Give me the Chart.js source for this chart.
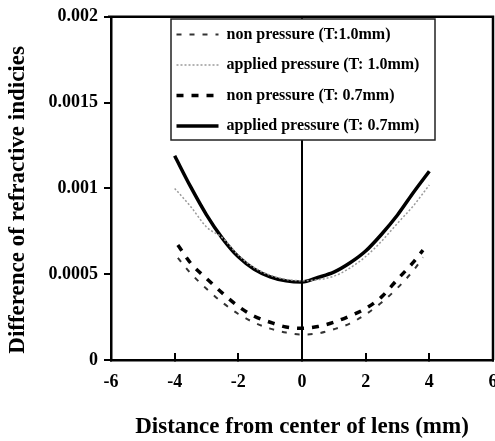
<!DOCTYPE html>
<html>
<head>
<meta charset="utf-8">
<script src="https://cdn.jsdelivr.net/npm/chart.js@4"></script>
<style>
  html, body { margin: 0; padding: 0; background: #fff; }
  #wrap { width: 495px; height: 441px; }
</style>
</head>
<body>
<div id="wrap"><canvas id="chart" width="495" height="441"></canvas></div>
<script>
// x positions (mm)
const xFull = [-4, -3.5, -3, -2.5, -2, -1.5, -1, -0.5, 0, 0.5, 1, 1.5, 2, 2.5, 3, 3.5, 4];
const xShort = [-3.9, -3.5, -3, -2.5, -2, -1.5, -1, -0.5, 0, 0.5, 1, 1.5, 2, 2.5, 3, 3.5, 3.8];

// difference of refractive indicies
const nonPressure10 = [0.000595, 0.000506, 0.000415, 0.000335, 0.000268, 0.000218, 0.000183, 0.00016, 0.000148,
  0.000155, 0.000179, 0.000212, 0.000266, 0.000335, 0.00042, 0.000522, 0.000598];
const applied10 = [0.001, 0.000895, 0.000775, 0.000712, 0.000611, 0.000538, 0.000494, 0.00047, 0.000462,
  0.000468, 0.000488, 0.000535, 0.000603, 0.000692, 0.000797, 0.000899, 0.00102];
const nonPressure07 = [0.00067, 0.000565, 0.000475, 0.00039, 0.000313, 0.000255, 0.00022, 0.000192, 0.000185,
  0.000195, 0.00022, 0.000256, 0.0003, 0.000368, 0.00047, 0.00057, 0.00064];
const applied07 = [0.00119, 0.00101, 0.000846, 0.000709, 0.000601, 0.000529, 0.000485, 0.000461, 0.000454,
  0.000481, 0.000512, 0.000565, 0.000635, 0.000733, 0.000845, 0.000976, 0.0011];

const seriesNames = ['non pressure (T:1.0mm)', 'applied pressure (T: 1.0mm)', 'non pressure (T: 0.7mm)', 'applied pressure (T: 0.7mm)'];
const xTicks = [-6, -4, -2, 0, 2, 4, 6];
const yTickLabels = ['0', '0.0005', '0.001', '0.0015', '0.002'];

const serif = 'Liberation Serif, Times New Roman, serif';

function pts(xs, ys) {
  return xs.map((x, i) => ({ x: x, y: ys[i] }));
}

// legend box + frame + centre line
const framePlugin = {
  id: 'frame',
  afterLayout(chart) {
    const lg = chart.legend;
    lg.left = 162; lg.top = 12; lg.right = 440; lg.bottom = 340;
    lg.width = lg.right - lg.left; lg.height = lg.bottom - lg.top;
  },
  beforeDraw(chart) {
    const ctx = chart.ctx;
    const a = chart.chartArea;
    const x0 = chart.scales.x.getPixelForValue(0);
    ctx.save();
    ctx.strokeStyle = '#000';
    ctx.lineWidth = 2;
    ctx.beginPath();
    ctx.moveTo(x0, a.top);
    ctx.lineTo(x0, a.bottom);
    ctx.stroke();
    // top + right border
    ctx.lineWidth = 2.5;
    ctx.beginPath();
    ctx.moveTo(a.left - 3, a.top);
    ctx.lineTo(a.right, a.top);
    ctx.lineTo(a.right, a.bottom);
    ctx.stroke();
    // legend frame
    ctx.fillStyle = '#fff';
    ctx.fillRect(171, 19, 264, 121);
    ctx.lineWidth = 1.5;
    ctx.strokeStyle = '#222';
    ctx.strokeRect(171, 19, 264, 121);
    ctx.restore();
  }
};

new Chart(document.getElementById('chart'), {
  type: 'line',
  data: {
    datasets: [
      { label: seriesNames[0], data: pts(xShort, nonPressure10), borderColor: '#333', borderWidth: 2, borderDash: [5, 8] },
      { label: seriesNames[1], data: pts(xFull, applied10), borderColor: '#9a9a9a', borderWidth: 1.5, borderDash: [2, 2] },
      { label: seriesNames[2], data: pts(xShort, nonPressure07), borderColor: '#000', borderWidth: 3.5, borderDash: [7, 8] },
      { label: seriesNames[3], data: pts(xFull, applied07), borderColor: '#000', borderWidth: 3.5 }
    ]
  },
  options: {
    responsive: false,
    animation: false,
    devicePixelRatio: 1,
    layout: { padding: { top: 15, right: 2, left: 0, bottom: 0 } },
    elements: {
      point: { radius: 0 },
      line: { tension: 0.4, cubicInterpolationMode: 'monotone', backgroundColor: 'transparent' }
    },
    plugins: {
      tooltip: { enabled: false },
      legend: {
        position: 'chartArea',
        align: 'start',
        labels: {
          usePointStyle: true,
          pointStyle: 'line',
          pointStyleWidth: 42,
          boxWidth: 42,
          padding: 14.5,
          color: '#000',
          font: { family: serif, size: 16, weight: 'bold' },
          generateLabels: chart => chart.data.datasets.map((ds, i) => ({
            text: ds.label,
            strokeStyle: ds.borderColor,
            fillStyle: ds.borderColor,
            lineWidth: ds.borderWidth,
            lineDash: ds.borderDash || [],
            pointStyle: 'line',
            hidden: false,
            datasetIndex: i
          }))
        }
      }
    },
    scales: {
      x: {
        type: 'linear',
        min: -6,
        max: 6,
        afterBuildTicks: s => { s.ticks = xTicks.map(v => ({ value: v })); },
        afterFit: s => { s.height = 81; s.paddingLeft = 0; s.paddingRight = 0; },
        grid: { drawOnChartArea: false, drawTicks: true, tickLength: -7, color: '#000', lineWidth: 2 },
        border: { color: '#000', width: 2.5 },
        ticks: { padding: 19, color: '#000', font: { family: serif, size: 18, weight: 'bold' } },
        title: {
          display: true,
          text: 'Distance from center of lens (mm)',
          color: '#000',
          padding: { top: 0, bottom: 0 },
          font: { family: serif, size: 23, weight: 'bold' }
        }
      },
      y: {
        min: 0,
        max: 0.002,
        afterBuildTicks: s => { s.ticks = yTickLabels.map(t => ({ value: Number(t) })); },
        afterFit: s => { s.width = 111; },
        grid: { drawOnChartArea: false, drawTicks: true, tickLength: 7, color: '#000', lineWidth: 2 },
        border: { color: '#000', width: 2.5 },
        ticks: {
          padding: 6,
          color: '#000',
          font: { family: serif, size: 18, weight: 'bold' },
          callback: (v, i) => yTickLabels[i]
        },
        title: {
          display: true,
          text: 'Difference of refractive indicies    ',
          color: '#000',
          padding: { top: 4, bottom: 0 },
          font: { family: serif, size: 23, weight: 'bold' }
        }
      }
    }
  },
  plugins: [framePlugin]
});
</script>
</body>
</html>
